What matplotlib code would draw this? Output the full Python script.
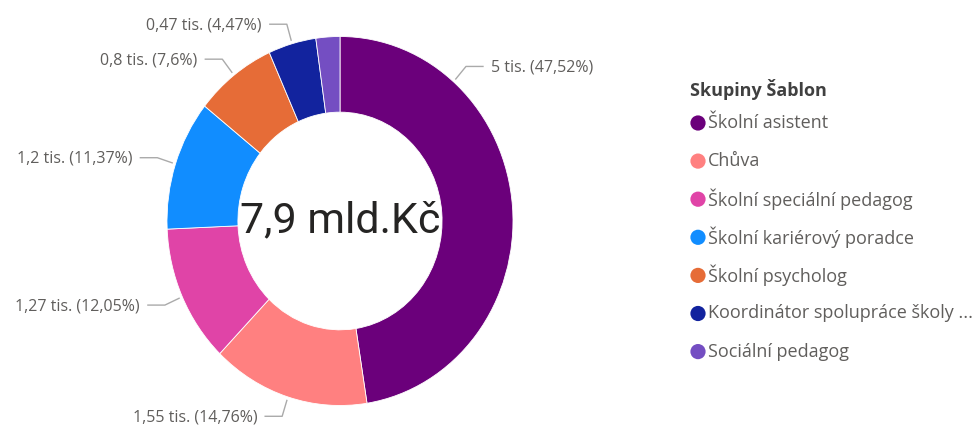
import numpy as np
import matplotlib
matplotlib.use("Agg")
import matplotlib.pyplot as plt

# data
groups = ["Školní asistent", "Chůva", "Školní speciální pedagog", "Školní kariérový poradce",
          "Školní psycholog", "Koordinátor spolupráce školy ...", "Sociální pedagog"]
values = [5.0, 1.55, 1.27, 1.2, 0.8, 0.47, 0.235]
value_labels = ["5 tis.", "1,55 tis.", "1,27 tis.", "1,2 tis.", "0,8 tis.", "0,47 tis.", ""]
pct_labels = ["47,52%", "14,76%", "12,05%", "11,37%", "7,6%", "4,47%", "2,23%"]
colors = ["#6B007B", "#FF8080", "#E044A7", "#118DFF", "#E66C37", "#12239E", "#744EC2"]
center_text = "7,9 mld.Kč"
legend_title = "Skupiny Šablon"

W, H = 975, 432
cx, cy, rx, ry = 340, 221, 173, 184.5

fig = plt.figure(figsize=(W / 100, H / 100), dpi=100)
fig.patch.set_facecolor("white")

# donut
ax = fig.add_axes([(cx - rx) / W, (H - cy - ry) / H, 2 * rx / W, 2 * ry / H])
wedges, _ = ax.pie(values, colors=colors, startangle=90, counterclock=False, radius=1,
                   wedgeprops=dict(width=0.41, edgecolor="white", linewidth=0.6))
ax.set_aspect("auto")
ax.set_xlim(-1, 1)
ax.set_ylim(-1, 1)
ax.axis("off")
ax.text(0, 0, center_text, ha="center", va="center", fontsize=31, color="#252423",
        family=["Roboto", "DejaVu Sans"])

# overlay in pixel coordinates for labels and legend
ov = fig.add_axes([0, 0, 1, 1], facecolor="none")
ov.set_xlim(0, W)
ov.set_ylim(H, 0)
ov.axis("off")

total = sum(values)
cum = np.cumsum([0] + values[:-1]) / total
mids = (cum + np.array(values) / total / 2) * 360
mids[0] = 41  # Power BI pushes the big slice label up

label_font = ["Open Sans", "DejaVu Sans"]
for i, (vl, pl) in enumerate(zip(value_labels, pct_labels)):
    if not vl:
        continue
    t = np.radians(mids[i])
    x0, y0 = cx + 1.02 * rx * np.sin(t), cy - 1.02 * ry * np.cos(t)
    x1, y1 = cx + 1.11 * rx * np.sin(t), cy - 1.11 * ry * np.cos(t)
    side = 1 if np.sin(t) > 0 else -1
    x2 = x1 + side * 17
    ov.plot([x0, x1, x2], [y0, y1, y1], color="#AAAAAA", lw=1)
    ov.text(x2 + side * 8, y1 + 1, f"{vl} ({pl})", ha="left" if side > 0 else "right",
            va="center", fontsize=11.5, color="#605E5C", family=label_font)

# legend
ov.text(690, 89, legend_title, ha="left", va="center", fontsize=13, fontweight="bold",
        color="#404040", family=label_font)
for i, (g, c) in enumerate(zip(groups, colors)):
    y = 123 + i * 38.1
    ov.scatter([698], [y], s=120, color=c, edgecolor="none")
    ov.text(708, y, g, ha="left", va="center", fontsize=13, color="#605E5C", family=label_font)

fig.savefig("out.png", dpi=100)
